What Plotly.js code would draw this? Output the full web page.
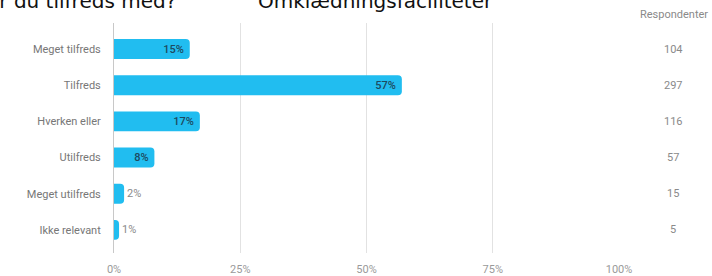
<!DOCTYPE html>
<html>
<head>
<meta charset="utf-8">
<script src="https://cdn.plot.ly/plotly-3.0.1.min.js"></script>
<style>html,body{margin:0;padding:0;background:#fff;overflow:hidden}#chart{width:712px;height:276px}</style>
</head>
<body>
<div id="chart"></div>
<script>
const categories = ["Meget tilfreds", "Tilfreds", "Hverken eller", "Utilfreds", "Meget utilfreds", "Ikke relevant"];
const percents = [15, 57, 17, 8, 2, 1];
const respondents = [104, 297, 116, 57, 15, 5];
const xTickVals = [0, 25, 50, 75, 100];
const xTickText = ["0%", "25%", "50%", "75%", "100%"];
const titleLeft = "er du tilfreds med?";
const titleRight = "Omklædningsfaciliteter";
const respHeader = "Respondenter";

const W = 712, H = 276;
const L = 114, R = 93, T = 23, B = 23;
const pw = W - L - R, ph = H - T - B;
const px = X => (X - L) / pw;
const py = Y => 1 + (T - Y) / ph;

const textPos = percents.map(p => p >= 5 ? "inside" : "outside");

const trace = {
  type: "bar",
  orientation: "h",
  y: categories,
  x: percents,
  text: percents.map(p => p + "%" + (p >= 5 ? "\u00a0" : "")),
  textposition: textPos,
  insidetextanchor: "end",
  constraintext: "none",
  cliponaxis: false,
  insidetextfont: {family: "Roboto, sans-serif", size: 11, color: "#1d4a60", weight: 500},
  outsidetextfont: {family: "Roboto, sans-serif", size: 11, color: "#8a8a8a"},
  marker: {color: "#21bdf0", cornerradius: 4, line: {width: 0}},
  hoverinfo: "none"
};

const annotations = [
  {text: titleLeft, xref: "paper", yref: "paper", x: px(178), y: py(15), xanchor: "right", yanchor: "bottom",
   showarrow: false, font: {family: "DejaVu Sans", size: 20, color: "#111"}},
  {text: titleRight, xref: "paper", yref: "paper", x: px(256), y: py(15), xanchor: "left", yanchor: "bottom",
   showarrow: false, font: {family: "DejaVu Sans", size: 20, color: "#111"}},
  {text: respHeader, xref: "paper", yref: "paper", x: px(674), y: py(15), xanchor: "center", yanchor: "middle",
   showarrow: false, font: {family: "Roboto, sans-serif", size: 11, color: "#8a8a8a"}}
];
categories.forEach((c, i) => {
  annotations.push({text: String(respondents[i]), xref: "paper", yref: "y", x: px(673), y: c,
    xanchor: "center", yanchor: "middle", showarrow: false,
    font: {family: "Roboto, sans-serif", size: 11, color: "#8a8a8a"}});
});

const layout = {
  width: W, height: H,
  margin: {l: L, r: R, t: T, b: B, pad: 0},
  paper_bgcolor: "#fff", plot_bgcolor: "#fff",
  showlegend: false,
  bargap: 0.45,
  font: {family: "Roboto, sans-serif", size: 11, color: "#8a8a8a"},
  xaxis: {
    range: [0, 100], tickvals: xTickVals, ticktext: xTickText,
    showgrid: true, gridcolor: "#e2e2e2", gridwidth: 1,
    zeroline: false, showline: false, ticks: "",
    ticklabelstandoff: 8,
    tickfont: {family: "Roboto, sans-serif", size: 11, color: "#9a9a9a"},
    fixedrange: true
  },
  yaxis: {
    type: "category", categoryorder: "array", categoryarray: categories,
    range: [5.64, -0.72],
    showgrid: false, zeroline: false, showline: true, linecolor: "#c8c8c8", linewidth: 1,
    ticks: "", ticklabelstandoff: 10,
    tickfont: {family: "Roboto, sans-serif", size: 11, color: "#777"},
    fixedrange: true
  },
  annotations: annotations
};

Plotly.newPlot("chart", [trace], layout, {displayModeBar: false, staticPlot: true});
</script>
</body>
</html>
